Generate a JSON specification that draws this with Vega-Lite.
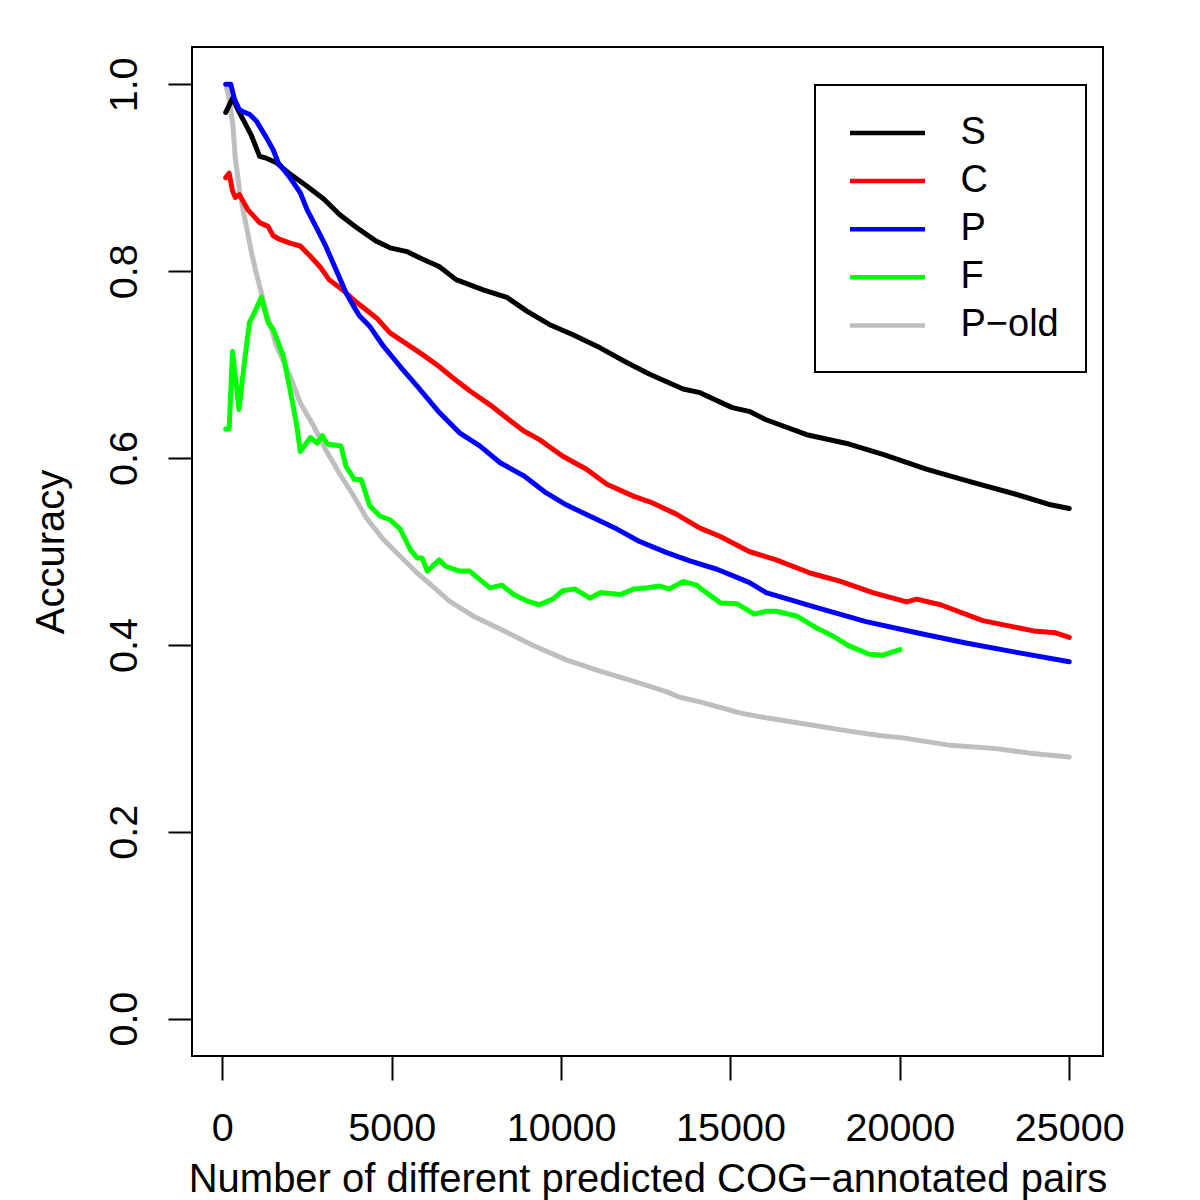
{
  "$schema": "https://vega.github.io/schema/vega-lite/v6.json",
  "width": 911,
  "height": 1009,
  "autosize": {"type": "none"},
  "padding": {"left": 192, "top": 47, "right": 97, "bottom": 144},
  "background": "white",
  "config": {
    "view": {"stroke": "black", "strokeWidth": 2},
    "font": "Liberation Sans",
    "legend": {"strokeWidth": 2}
  },
  "datasets": {
    "curves": [
      {"series": "P−old", "pairs": 100, "accuracy": 1.0},
      {"series": "P−old", "pairs": 200, "accuracy": 0.985},
      {"series": "P−old", "pairs": 310, "accuracy": 0.957},
      {"series": "P−old", "pairs": 380, "accuracy": 0.922},
      {"series": "P−old", "pairs": 510, "accuracy": 0.886},
      {"series": "P−old", "pairs": 610, "accuracy": 0.866},
      {"series": "P−old", "pairs": 710, "accuracy": 0.848},
      {"series": "P−old", "pairs": 860, "accuracy": 0.820},
      {"series": "P−old", "pairs": 1000, "accuracy": 0.798},
      {"series": "P−old", "pairs": 1150, "accuracy": 0.777},
      {"series": "P−old", "pairs": 1300, "accuracy": 0.756},
      {"series": "P−old", "pairs": 1600, "accuracy": 0.720},
      {"series": "P−old", "pairs": 2000, "accuracy": 0.688},
      {"series": "P−old", "pairs": 2300, "accuracy": 0.659},
      {"series": "P−old", "pairs": 2700, "accuracy": 0.634},
      {"series": "P−old", "pairs": 3050, "accuracy": 0.609},
      {"series": "P−old", "pairs": 3450, "accuracy": 0.584},
      {"series": "P−old", "pairs": 3850, "accuracy": 0.561},
      {"series": "P−old", "pairs": 4250, "accuracy": 0.536},
      {"series": "P−old", "pairs": 4750, "accuracy": 0.513},
      {"series": "P−old", "pairs": 5250, "accuracy": 0.495},
      {"series": "P−old", "pairs": 5750, "accuracy": 0.477},
      {"series": "P−old", "pairs": 6200, "accuracy": 0.463},
      {"series": "P−old", "pairs": 6700, "accuracy": 0.447},
      {"series": "P−old", "pairs": 7400, "accuracy": 0.431},
      {"series": "P−old", "pairs": 8200, "accuracy": 0.417},
      {"series": "P−old", "pairs": 9150, "accuracy": 0.400},
      {"series": "P−old", "pairs": 10150, "accuracy": 0.384},
      {"series": "P−old", "pairs": 11150, "accuracy": 0.372},
      {"series": "P−old", "pairs": 12150, "accuracy": 0.361},
      {"series": "P−old", "pairs": 13100, "accuracy": 0.350},
      {"series": "P−old", "pairs": 13500, "accuracy": 0.344},
      {"series": "P−old", "pairs": 14100, "accuracy": 0.339},
      {"series": "P−old", "pairs": 15300, "accuracy": 0.327},
      {"series": "P−old", "pairs": 16050, "accuracy": 0.322},
      {"series": "P−old", "pairs": 17250, "accuracy": 0.315},
      {"series": "P−old", "pairs": 18450, "accuracy": 0.308},
      {"series": "P−old", "pairs": 19400, "accuracy": 0.303},
      {"series": "P−old", "pairs": 20100, "accuracy": 0.3005},
      {"series": "P−old", "pairs": 21400, "accuracy": 0.293},
      {"series": "P−old", "pairs": 22850, "accuracy": 0.289},
      {"series": "P−old", "pairs": 23850, "accuracy": 0.284},
      {"series": "P−old", "pairs": 25000, "accuracy": 0.280},

      {"series": "S", "pairs": 100, "accuracy": 0.970},
      {"series": "S", "pairs": 300, "accuracy": 0.985},
      {"series": "S", "pairs": 500, "accuracy": 0.970},
      {"series": "S", "pairs": 850, "accuracy": 0.946},
      {"series": "S", "pairs": 1100, "accuracy": 0.923},
      {"series": "S", "pairs": 1300, "accuracy": 0.921},
      {"series": "S", "pairs": 1600, "accuracy": 0.916},
      {"series": "S", "pairs": 2000, "accuracy": 0.904},
      {"series": "S", "pairs": 2500, "accuracy": 0.891},
      {"series": "S", "pairs": 3000, "accuracy": 0.877},
      {"series": "S", "pairs": 3450, "accuracy": 0.861},
      {"series": "S", "pairs": 3950, "accuracy": 0.847},
      {"series": "S", "pairs": 4550, "accuracy": 0.832},
      {"series": "S", "pairs": 4950, "accuracy": 0.825},
      {"series": "S", "pairs": 5450, "accuracy": 0.821},
      {"series": "S", "pairs": 5900, "accuracy": 0.813},
      {"series": "S", "pairs": 6400, "accuracy": 0.805},
      {"series": "S", "pairs": 6900, "accuracy": 0.791},
      {"series": "S", "pairs": 7700, "accuracy": 0.780},
      {"series": "S", "pairs": 8400, "accuracy": 0.772},
      {"series": "S", "pairs": 9000, "accuracy": 0.757},
      {"series": "S", "pairs": 9650, "accuracy": 0.743},
      {"series": "S", "pairs": 10350, "accuracy": 0.732},
      {"series": "S", "pairs": 11150, "accuracy": 0.718},
      {"series": "S", "pairs": 11950, "accuracy": 0.702},
      {"series": "S", "pairs": 12600, "accuracy": 0.690},
      {"series": "S", "pairs": 13600, "accuracy": 0.674},
      {"series": "S", "pairs": 14100, "accuracy": 0.670},
      {"series": "S", "pairs": 15050, "accuracy": 0.654},
      {"series": "S", "pairs": 15550, "accuracy": 0.650},
      {"series": "S", "pairs": 16050, "accuracy": 0.641},
      {"series": "S", "pairs": 17250, "accuracy": 0.625},
      {"series": "S", "pairs": 18500, "accuracy": 0.615},
      {"series": "S", "pairs": 19500, "accuracy": 0.604},
      {"series": "S", "pairs": 20800, "accuracy": 0.588},
      {"series": "S", "pairs": 22150, "accuracy": 0.574},
      {"series": "S", "pairs": 23450, "accuracy": 0.561},
      {"series": "S", "pairs": 24450, "accuracy": 0.550},
      {"series": "S", "pairs": 25000, "accuracy": 0.546},

      {"series": "C", "pairs": 100, "accuracy": 0.900},
      {"series": "C", "pairs": 200, "accuracy": 0.905},
      {"series": "C", "pairs": 300, "accuracy": 0.886},
      {"series": "C", "pairs": 380, "accuracy": 0.879},
      {"series": "C", "pairs": 500, "accuracy": 0.882},
      {"series": "C", "pairs": 750, "accuracy": 0.866},
      {"series": "C", "pairs": 1100, "accuracy": 0.852},
      {"series": "C", "pairs": 1350, "accuracy": 0.848},
      {"series": "C", "pairs": 1500, "accuracy": 0.838},
      {"series": "C", "pairs": 1700, "accuracy": 0.834},
      {"series": "C", "pairs": 2000, "accuracy": 0.830},
      {"series": "C", "pairs": 2300, "accuracy": 0.827},
      {"series": "C", "pairs": 2600, "accuracy": 0.816},
      {"series": "C", "pairs": 2900, "accuracy": 0.804},
      {"series": "C", "pairs": 3150, "accuracy": 0.791},
      {"series": "C", "pairs": 3550, "accuracy": 0.780},
      {"series": "C", "pairs": 3950, "accuracy": 0.767},
      {"series": "C", "pairs": 4550, "accuracy": 0.750},
      {"series": "C", "pairs": 4950, "accuracy": 0.734},
      {"series": "C", "pairs": 5450, "accuracy": 0.722},
      {"series": "C", "pairs": 5900, "accuracy": 0.711},
      {"series": "C", "pairs": 6400, "accuracy": 0.698},
      {"series": "C", "pairs": 6800, "accuracy": 0.686},
      {"series": "C", "pairs": 7300, "accuracy": 0.672},
      {"series": "C", "pairs": 7900, "accuracy": 0.657},
      {"series": "C", "pairs": 8500, "accuracy": 0.640},
      {"series": "C", "pairs": 8900, "accuracy": 0.629},
      {"series": "C", "pairs": 9350, "accuracy": 0.620},
      {"series": "C", "pairs": 10050, "accuracy": 0.602},
      {"series": "C", "pairs": 10750, "accuracy": 0.588},
      {"series": "C", "pairs": 11350, "accuracy": 0.572},
      {"series": "C", "pairs": 12150, "accuracy": 0.559},
      {"series": "C", "pairs": 12700, "accuracy": 0.552},
      {"series": "C", "pairs": 13400, "accuracy": 0.540},
      {"series": "C", "pairs": 14100, "accuracy": 0.525},
      {"series": "C", "pairs": 14700, "accuracy": 0.516},
      {"series": "C", "pairs": 15550, "accuracy": 0.500},
      {"series": "C", "pairs": 16350, "accuracy": 0.491},
      {"series": "C", "pairs": 17350, "accuracy": 0.477},
      {"series": "C", "pairs": 18250, "accuracy": 0.468},
      {"series": "C", "pairs": 19200, "accuracy": 0.456},
      {"series": "C", "pairs": 20200, "accuracy": 0.446},
      {"series": "C", "pairs": 20500, "accuracy": 0.449},
      {"series": "C", "pairs": 21200, "accuracy": 0.443},
      {"series": "C", "pairs": 22450, "accuracy": 0.426},
      {"series": "C", "pairs": 23950, "accuracy": 0.415},
      {"series": "C", "pairs": 24600, "accuracy": 0.413},
      {"series": "C", "pairs": 25000, "accuracy": 0.408},

      {"series": "P", "pairs": 100, "accuracy": 1.0},
      {"series": "P", "pairs": 250, "accuracy": 1.0},
      {"series": "P", "pairs": 360, "accuracy": 0.984},
      {"series": "P", "pairs": 500, "accuracy": 0.973},
      {"series": "P", "pairs": 650, "accuracy": 0.970},
      {"series": "P", "pairs": 800, "accuracy": 0.968},
      {"series": "P", "pairs": 1000, "accuracy": 0.961},
      {"series": "P", "pairs": 1300, "accuracy": 0.943},
      {"series": "P", "pairs": 1500, "accuracy": 0.930},
      {"series": "P", "pairs": 1650, "accuracy": 0.916},
      {"series": "P", "pairs": 2000, "accuracy": 0.900},
      {"series": "P", "pairs": 2300, "accuracy": 0.884},
      {"series": "P", "pairs": 2500, "accuracy": 0.866},
      {"series": "P", "pairs": 2800, "accuracy": 0.845},
      {"series": "P", "pairs": 3050, "accuracy": 0.827},
      {"series": "P", "pairs": 3350, "accuracy": 0.802},
      {"series": "P", "pairs": 3650, "accuracy": 0.777},
      {"series": "P", "pairs": 3900, "accuracy": 0.761},
      {"series": "P", "pairs": 4050, "accuracy": 0.752},
      {"series": "P", "pairs": 4350, "accuracy": 0.741},
      {"series": "P", "pairs": 4750, "accuracy": 0.720},
      {"series": "P", "pairs": 5250, "accuracy": 0.698},
      {"series": "P", "pairs": 5750, "accuracy": 0.677},
      {"series": "P", "pairs": 6400, "accuracy": 0.649},
      {"series": "P", "pairs": 7000, "accuracy": 0.627},
      {"series": "P", "pairs": 7600, "accuracy": 0.613},
      {"series": "P", "pairs": 8200, "accuracy": 0.595},
      {"series": "P", "pairs": 8900, "accuracy": 0.581},
      {"series": "P", "pairs": 9550, "accuracy": 0.563},
      {"series": "P", "pairs": 10150, "accuracy": 0.550},
      {"series": "P", "pairs": 10950, "accuracy": 0.536},
      {"series": "P", "pairs": 11650, "accuracy": 0.524},
      {"series": "P", "pairs": 12300, "accuracy": 0.511},
      {"series": "P", "pairs": 13100, "accuracy": 0.499},
      {"series": "P", "pairs": 13800, "accuracy": 0.490},
      {"series": "P", "pairs": 14600, "accuracy": 0.481},
      {"series": "P", "pairs": 15550, "accuracy": 0.467},
      {"series": "P", "pairs": 16050, "accuracy": 0.456},
      {"series": "P", "pairs": 17550, "accuracy": 0.440},
      {"series": "P", "pairs": 19000, "accuracy": 0.425},
      {"series": "P", "pairs": 20500, "accuracy": 0.413},
      {"series": "P", "pairs": 21950, "accuracy": 0.402},
      {"series": "P", "pairs": 23450, "accuracy": 0.392},
      {"series": "P", "pairs": 25000, "accuracy": 0.382},

      {"series": "F", "pairs": 100, "accuracy": 0.631},
      {"series": "F", "pairs": 200, "accuracy": 0.631},
      {"series": "F", "pairs": 300, "accuracy": 0.714},
      {"series": "F", "pairs": 490, "accuracy": 0.652},
      {"series": "F", "pairs": 660, "accuracy": 0.705},
      {"series": "F", "pairs": 800, "accuracy": 0.745},
      {"series": "F", "pairs": 950, "accuracy": 0.756},
      {"series": "F", "pairs": 1150, "accuracy": 0.772},
      {"series": "F", "pairs": 1350, "accuracy": 0.745},
      {"series": "F", "pairs": 1500, "accuracy": 0.738},
      {"series": "F", "pairs": 1800, "accuracy": 0.709},
      {"series": "F", "pairs": 2000, "accuracy": 0.673},
      {"series": "F", "pairs": 2200, "accuracy": 0.634},
      {"series": "F", "pairs": 2300, "accuracy": 0.607},
      {"series": "F", "pairs": 2600, "accuracy": 0.622},
      {"series": "F", "pairs": 2800, "accuracy": 0.616},
      {"series": "F", "pairs": 2950, "accuracy": 0.624},
      {"series": "F", "pairs": 3100, "accuracy": 0.615},
      {"series": "F", "pairs": 3500, "accuracy": 0.613},
      {"series": "F", "pairs": 3650, "accuracy": 0.591},
      {"series": "F", "pairs": 3900, "accuracy": 0.577},
      {"series": "F", "pairs": 4100, "accuracy": 0.577},
      {"series": "F", "pairs": 4350, "accuracy": 0.549},
      {"series": "F", "pairs": 4650, "accuracy": 0.538},
      {"series": "F", "pairs": 4950, "accuracy": 0.534},
      {"series": "F", "pairs": 5250, "accuracy": 0.524},
      {"series": "F", "pairs": 5550, "accuracy": 0.502},
      {"series": "F", "pairs": 5750, "accuracy": 0.493},
      {"series": "F", "pairs": 5900, "accuracy": 0.493},
      {"series": "F", "pairs": 6050, "accuracy": 0.479},
      {"series": "F", "pairs": 6400, "accuracy": 0.491},
      {"series": "F", "pairs": 6600, "accuracy": 0.484},
      {"series": "F", "pairs": 7000, "accuracy": 0.479},
      {"series": "F", "pairs": 7300, "accuracy": 0.479},
      {"series": "F", "pairs": 7900, "accuracy": 0.461},
      {"series": "F", "pairs": 8250, "accuracy": 0.464},
      {"series": "F", "pairs": 8600, "accuracy": 0.454},
      {"series": "F", "pairs": 9000, "accuracy": 0.447},
      {"series": "F", "pairs": 9350, "accuracy": 0.443},
      {"series": "F", "pairs": 9750, "accuracy": 0.449},
      {"series": "F", "pairs": 10050, "accuracy": 0.458},
      {"series": "F", "pairs": 10400, "accuracy": 0.460},
      {"series": "F", "pairs": 10850, "accuracy": 0.450},
      {"series": "F", "pairs": 11150, "accuracy": 0.456},
      {"series": "F", "pairs": 11750, "accuracy": 0.454},
      {"series": "F", "pairs": 12150, "accuracy": 0.460},
      {"series": "F", "pairs": 12500, "accuracy": 0.461},
      {"series": "F", "pairs": 12900, "accuracy": 0.463},
      {"series": "F", "pairs": 13200, "accuracy": 0.460},
      {"series": "F", "pairs": 13600, "accuracy": 0.468},
      {"series": "F", "pairs": 14000, "accuracy": 0.464},
      {"series": "F", "pairs": 14100, "accuracy": 0.461},
      {"series": "F", "pairs": 14700, "accuracy": 0.445},
      {"series": "F", "pairs": 15200, "accuracy": 0.444},
      {"series": "F", "pairs": 15700, "accuracy": 0.433},
      {"series": "F", "pairs": 16050, "accuracy": 0.436},
      {"series": "F", "pairs": 16350, "accuracy": 0.436},
      {"series": "F", "pairs": 16950, "accuracy": 0.431},
      {"series": "F", "pairs": 17550, "accuracy": 0.418},
      {"series": "F", "pairs": 18050, "accuracy": 0.409},
      {"series": "F", "pairs": 18500, "accuracy": 0.399},
      {"series": "F", "pairs": 19100, "accuracy": 0.390},
      {"series": "F", "pairs": 19500, "accuracy": 0.389},
      {"series": "F", "pairs": 20000, "accuracy": 0.395}
    ]
  },
  "data": {"name": "curves"},
  "mark": {"type": "line", "strokeWidth": 5, "strokeJoin": "round", "strokeCap": "round"},
  "encoding": {
    "x": {
      "field": "pairs",
      "type": "quantitative",
      "scale": {"domain": [-896, 25996], "nice": false, "zero": false},
      "axis": {
        "values": [0, 5000, 10000, 15000, 20000, 25000],
        "format": "d",
        "grid": false,
        "domain": false,
        "tickSize": 24,
        "tickWidth": 2,
        "tickColor": "black",
        "labelFontSize": 39.5,
        "labelColor": "black",
        "labelPadding": 29,
        "labelFlush": false,
        "labelOverlap": false,
        "title": "Number of different predicted COG−annotated pairs",
        "titleFontSize": 40,
        "titleFontWeight": "normal",
        "titleColor": "black",
        "titlePadding": 12
      }
    },
    "y": {
      "field": "accuracy",
      "type": "quantitative",
      "scale": {"domain": [-0.04, 1.04], "nice": false, "zero": false},
      "axis": {
        "values": [0, 0.2, 0.4, 0.6, 0.8, 1.0],
        "format": ".1f",
        "grid": false,
        "domain": false,
        "tickSize": 24,
        "tickWidth": 2,
        "tickColor": "black",
        "labelFontSize": 39.5,
        "labelColor": "black",
        "labelAngle": -90,
        "labelAlign": "center",
        "labelBaseline": "alphabetic",
        "labelPadding": 32,
        "labelFlush": false,
        "labelOverlap": false,
        "title": "Accuracy",
        "titleFontSize": 40,
        "titleFontWeight": "normal",
        "titleColor": "black",
        "titlePadding": 33
      }
    },
    "color": {
      "field": "series",
      "type": "nominal",
      "scale": {
        "domain": ["S", "C", "P", "F", "P−old"],
        "range": ["#000000", "#FF0000", "#0000FF", "#00FF00", "#BEBEBE"]
      },
      "legend": {
        "orient": "none",
        "legendX": 623,
        "legendY": 38,
        "title": null,
        "symbolType": "M-2,0H2",
        "symbolSize": 1406,
        "symbolStrokeWidth": 4.5,
        "symbolOffset": 24.5,
        "labelFontSize": 38,
        "labelColor": "black",
        "labelOffset": 52,
        "padding": 27,
        "rowPadding": 8.1,
        "strokeColor": "black",
        "fillColor": "white"
      }
    }
  }
}
